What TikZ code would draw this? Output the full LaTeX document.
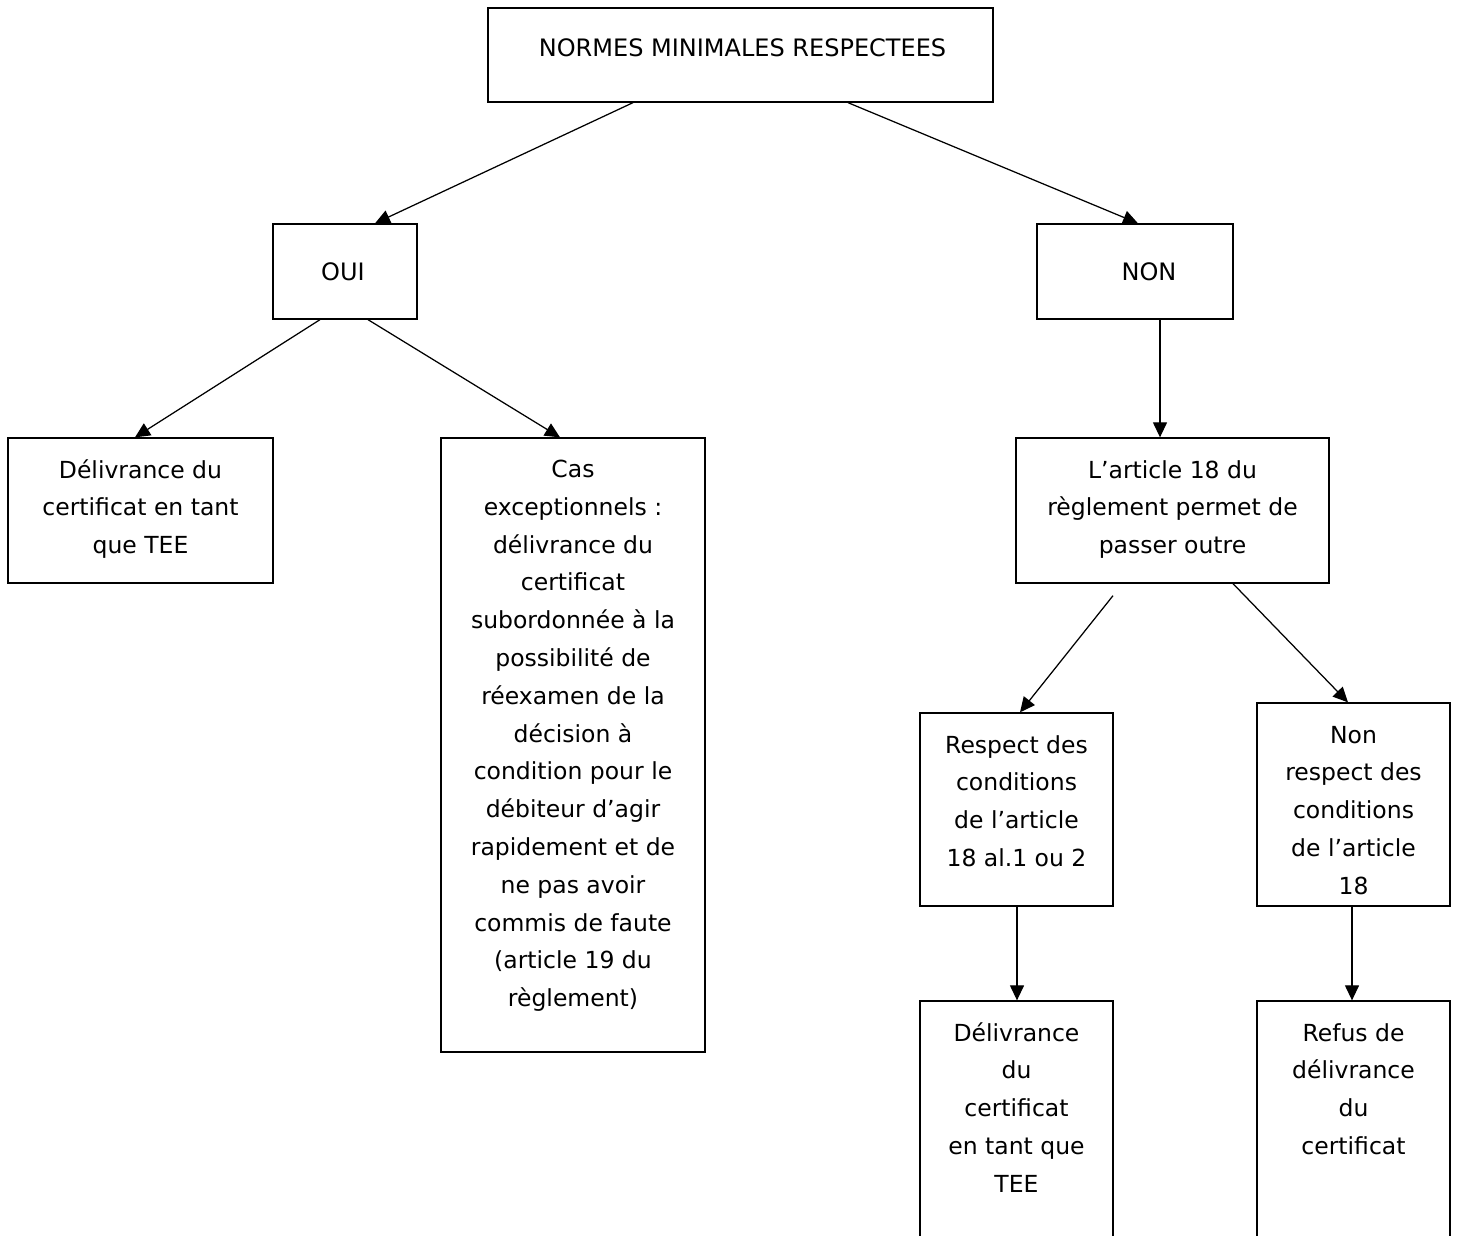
\documentclass[tikz,border=0pt]{standalone}
\usepackage{fontspec}
\setmainfont{DejaVu Sans}
\usetikzlibrary{arrows.meta}
\tikzset{
  box/.style={draw, line width=1.3pt, inner sep=0pt},
  txt/.style={anchor=north, inner sep=0pt, align=center, font=\fontsize{23.5}{37.8}\selectfont},
  lbl/.style={inner sep=0pt, font=\fontsize{24}{37.8}\selectfont},
  arr/.style={line width=1.25pt, -{Triangle[length=15pt,width=14pt]}}
}
\begin{document}
\begin{tikzpicture}[x=1pt,y=-1pt]
\useasboundingbox (0,0) rectangle (1459,1236);
\clip (0,0) rectangle (1459,1236);
% boxes
\node[box, minimum width=505pt, minimum height=94pt] (top) at (740.5,55) {};
\node[lbl] (toptxt) at ([xshift=2pt,yshift=7pt]top.center) {NORMES MINIMALES RESPECTEES};
\node[box, minimum width=144pt, minimum height=95pt] (oui) at (345,271.5) {};
\node[lbl] (ouitxt) at ([xshift=-2pt]oui.center) {OUI};
\node[box, minimum width=196pt, minimum height=95pt] (non) at (1135,271.5) {};
\node[lbl] (nontxt) at ([xshift=14pt]non.center) {NON};
\node[box, minimum width=265pt, minimum height=145pt] (delA) at (140.5,510.5) {};
\node[txt] (delAtxt) at ([yshift=-14pt]delA.north) {\strut Délivrance du\\certificat en tant\\que TEE};
\node[box, minimum width=264pt, minimum height=614pt] (cas) at (573,745) {};
\node[txt] (castxt) at ([yshift=-13pt]cas.north) {\fontsize{23.5}{38.6}\selectfont\strut Cas\\exceptionnels :\\délivrance du\\certificat\\subordonnée à la\\possibilité de\\réexamen de la\\décision à\\condition pour le\\débiteur d’agir\\rapidement et de\\ne pas avoir\\commis de faute\\(article 19 du\\règlement)};
\node[box, minimum width=313pt, minimum height=145pt] (art) at (1172.5,510.5) {};
\node[txt] (arttxt) at ([yshift=-14pt]art.north) {\strut L’article 18 du\\règlement permet de\\passer outre};
\node[box, minimum width=193pt, minimum height=193pt] (resp) at (1016.5,809.5) {};
\node[txt] (resptxt) at ([yshift=-14pt]resp.north) {\strut Respect des\\conditions\\de l’article\\18 al.1 ou 2};
\node[box, minimum width=193pt, minimum height=203pt] (nonr) at (1353.5,804.5) {};
\node[txt] (nonrtxt) at ([yshift=-14pt]nonr.north) {\strut Non\\respect des\\conditions\\de l’article\\18};
\node[box, minimum width=193pt, minimum height=259pt] (delB) at (1016.5,1130.5) {};
\node[txt] (delBtxt) at ([yshift=-14pt]delB.north) {\strut Délivrance\\du\\certificat\\en tant que\\TEE};
\node[box, minimum width=193pt, minimum height=259pt] (refus) at (1353.5,1130.5) {};
\node[txt] (refustxt) at ([yshift=-14pt]refus.north) {\strut Refus de\\délivrance\\du\\certificat};
% connectors
\draw[arr] ([xshift=-107.5pt]top.south) -- ([xshift=30pt]oui.north);
\draw[arr] ([xshift=107.5pt]top.south) -- ([xshift=3pt]non.north);
\draw[arr] ([xshift=-25pt]oui.south) -- ([xshift=-5.5pt]delA.north);
\draw[arr] ([xshift=23pt]oui.south) -- ([xshift=-13pt]cas.north);
\draw[arr] ([xshift=25pt]non.south) -- ([xshift=-12.5pt]art.north);
\draw[arr] ([xshift=-59.5pt,yshift=-12pt]art.south) -- ([xshift=3.5pt]resp.north);
\draw[arr] ([xshift=60.5pt]art.south) -- ([xshift=-5.5pt]nonr.north);
\draw[arr] ([xshift=0.5pt]resp.south) -- ([xshift=0.5pt]delB.north);
\draw[arr] ([xshift=-1.5pt]nonr.south) -- ([xshift=-1.5pt]refus.north);
\end{tikzpicture}
\end{document}
